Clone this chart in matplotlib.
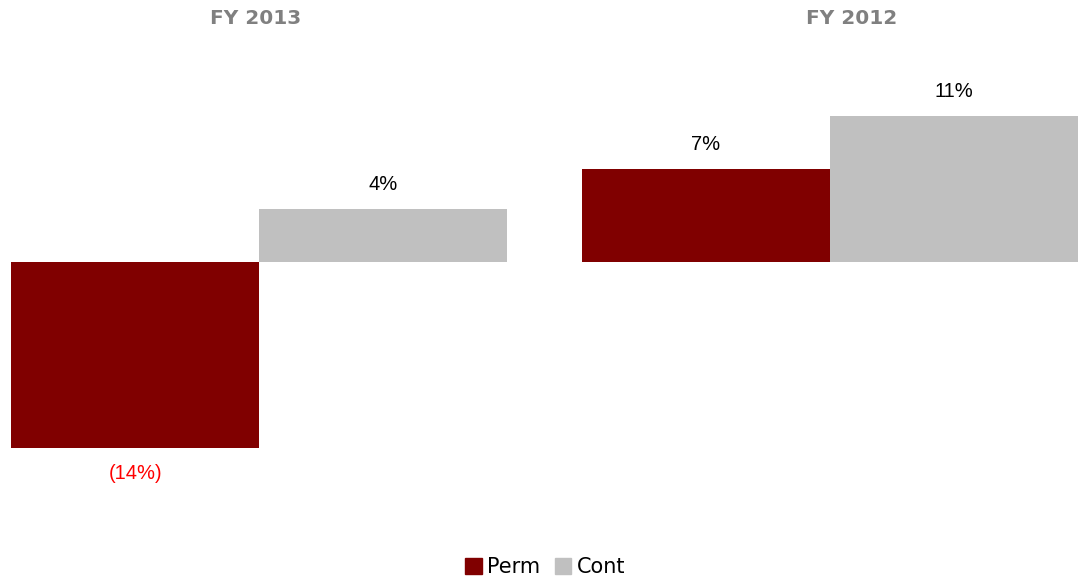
import matplotlib.pyplot as plt
from matplotlib.patches import Patch

years = ['FY 2013', 'FY 2012']
series = ['Perm', 'Cont']
perm = [-14, 7]
cont = [4, 11]
colors = {'Perm': '#800000', 'Cont': '#C0C0C0'}

W, H = 1081, 578
fig = plt.figure(figsize=(W / 100, H / 100), dpi=100)

# axes placed in pixel terms: zero line at y=262, ~13.3 px per percent
zero_px = 262
px_per = 13.3
ax_top, ax_bot = 40, 540
ax = fig.add_axes([11 / W, 1 - ax_bot / H, 1067 / W, (ax_bot - ax_top) / H])
ax.set_ylim(-(ax_bot - zero_px) / px_per, (zero_px - ax_top) / px_per)

gap = 74 / 248
group_x = [0, 2 + gap]
for gx, p, c in zip(group_x, perm, cont):
    ax.bar(gx, p, width=1, color=colors['Perm'])
    ax.bar(gx + 1, c, width=1, color=colors['Cont'])
    for x, v in [(gx, p), (gx + 1, c)]:
        if v < 0:
            ax.annotate(f'({abs(v)}%)', (x, v), xytext=(0, -25), textcoords='offset pixels',
                        ha='center', va='center', fontsize=14.5, color='#FF0000',
                        family='Liberation Sans')
        else:
            ax.annotate(f'{v}%', (x, v), xytext=(0, 24), textcoords='offset pixels',
                        ha='center', va='center', fontsize=14.5, color='black',
                        family='Liberation Sans')

ax.set_xlim(-0.5, group_x[1] + 1.5)
ax.axis('off')

# group titles
fig.text(256 / W, 1 - 18 / H, years[0], ha='center', va='center', fontsize=14.5,
         fontweight='bold', color='#808080', family='DejaVu Sans')
fig.text(852 / W, 1 - 18 / H, years[1], ha='center', va='center', fontsize=14.5,
         fontweight='bold', color='#808080', family='DejaVu Sans')

handles = [Patch(color=colors[s], label=s) for s in series]
fig.legend(handles=handles, loc='center', bbox_to_anchor=(545 / W, 1 - 567 / H), ncol=2,
           frameon=False, handlelength=0.8, handleheight=0.8, handletextpad=0.25,
           columnspacing=0.7, prop={'family': 'DejaVu Sans', 'size': 15})

fig.savefig('out.png', dpi=100)
